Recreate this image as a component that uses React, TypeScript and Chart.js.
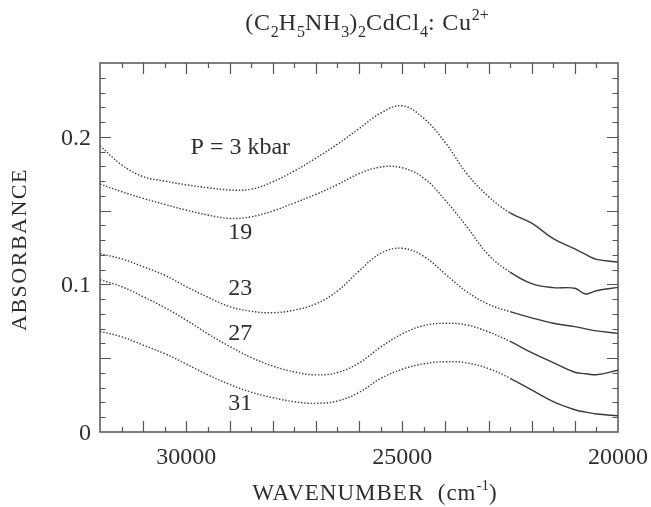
import React, { useEffect, useRef } from "react";
import { Chart, registerables } from "chart.js";

Chart.register(...registerables);

// ---- data (wavenumber in cm^-1, absorbance) ----
const wavenumbers = [
  32000, 31500, 31000, 30500, 30000, 29500, 29000, 28500, 28000, 27500, 27000, 26500, 26000,
  25500, 25000, 24500, 24000, 23500, 23000, 22500, 22000, 21500, 21000, 20750, 20500, 20000,
];

const absP3 = [
  0.194, 0.181, 0.173, 0.17, 0.1675, 0.1655, 0.164, 0.1645, 0.1695, 0.1768, 0.1855, 0.195, 0.2055,
  0.216, 0.221, 0.2125, 0.196, 0.175, 0.1595, 0.1485, 0.1415, 0.131, 0.124, 0.1203, 0.117, 0.1152,
];
const absP19 = [
  0.168, 0.1628, 0.1583, 0.1542, 0.1503, 0.147, 0.1447, 0.1458, 0.1497, 0.1552, 0.161, 0.1676, 0.175,
  0.1795, 0.179, 0.172, 0.157, 0.139, 0.12, 0.1083, 0.1005, 0.0978, 0.0974, 0.0935, 0.0957, 0.098,
];
const absP23 = [
  0.1208, 0.1173, 0.112, 0.1062, 0.0985, 0.0913, 0.085, 0.0818, 0.0808, 0.0826, 0.0868, 0.0955, 0.109,
  0.121, 0.1245, 0.119, 0.107, 0.095, 0.0865, 0.0815, 0.0773, 0.0737, 0.0714, 0.0699, 0.0685, 0.0668,
];
const absP27 = [
  0.1032, 0.0985, 0.0917, 0.0843, 0.0758, 0.0665, 0.058, 0.0505, 0.0447, 0.0407, 0.0387, 0.0403, 0.0468,
  0.0575, 0.0665, 0.0721, 0.0737, 0.0725, 0.0678, 0.0614, 0.0538, 0.047, 0.0405, 0.0395, 0.0388, 0.0418,
];
const absP31 = [
  0.0682, 0.0645, 0.0589, 0.0531, 0.046, 0.0387, 0.0323, 0.027, 0.0233, 0.0205, 0.0194, 0.021, 0.0268,
  0.0362, 0.0425, 0.0462, 0.0476, 0.0468, 0.043, 0.0364, 0.0285, 0.0206, 0.0151, 0.0135, 0.0122, 0.011,
];

const seriesNames = ["P = 3 kbar", "19", "23", "27", "31"];
const seriesValues = [absP3, absP19, absP23, absP27, absP31];

// curve labels: anchor (wavenumber, absorbance) for each label
const labelWavenumbers = [28750, 28750, 28750, 28750, 28750];
const labelAbsorbances = [0.1924, 0.1348, 0.0969, 0.0664, 0.019];

const xTickValues = [30000, 25000, 20000];
const xTickLabels = ["30000", "25000", "20000"];
const yTickValues = [0, 0.1, 0.2];
const yTickLabels = ["0", "0.1", "0.2"];

const X_MIN = 20000;
const X_MAX = 32000;
const Y_MIN = 0;
const Y_MAX = 0.25;
const DOTTED_ABOVE = 22500; // region plotted as dotted line

const SERIF = '"Liberation Serif", "Times New Roman", serif';
const INK = "#2e2e2e";
const FRAME = "#555";
const LINE = "#3a3a3a";

const decorPlugin = {
  id: "decor",
  afterDatasetsDraw(chart: any) {
    const { ctx, chartArea: a, scales } = chart;
    const xs = scales.x;
    const ys = scales.y;
    ctx.save();

    // frame
    ctx.strokeStyle = FRAME;
    ctx.lineWidth = 1.5;
    ctx.strokeRect(a.left, a.top, a.right - a.left, a.bottom - a.top);

    // ticks
    ctx.lineWidth = 1.2;
    ctx.beginPath();
    for (let v = X_MIN + 500; v < X_MAX; v += 500) {
      const px = Math.round(xs.getPixelForValue(v)) + 0.5;
      const len = v % 1000 === 0 ? 11 : 5;
      ctx.moveTo(px, a.bottom);
      ctx.lineTo(px, a.bottom - len);
      ctx.moveTo(px, a.top);
      ctx.lineTo(px, a.top + len);
    }
    for (let i = 1; i < 25; i++) {
      const py = Math.round(ys.getPixelForValue(i / 100)) + 0.5;
      const len = i % 5 === 0 ? 11 : 5.5;
      ctx.moveTo(a.left, py);
      ctx.lineTo(a.left + len, py);
      ctx.moveTo(a.right, py);
      ctx.lineTo(a.right - len, py);
    }
    ctx.stroke();

    ctx.fillStyle = INK;

    // x tick labels
    ctx.font = `24px ${SERIF}`;
    ctx.textAlign = "center";
    ctx.textBaseline = "alphabetic";
    xTickValues.forEach((v, i) => {
      ctx.fillText(xTickLabels[i], xs.getPixelForValue(v), a.bottom + 32);
    });

    // y tick labels
    ctx.textAlign = "right";
    ctx.textBaseline = "middle";
    yTickValues.forEach((v, i) => {
      ctx.fillText(yTickLabels[i], a.left - 9, ys.getPixelForValue(v) + 1.5);
    });

    // curve labels
    ctx.textAlign = "center";
    ctx.textBaseline = "middle";
    seriesNames.forEach((name, i) => {
      ctx.fillText(name, xs.getPixelForValue(labelWavenumbers[i]), ys.getPixelForValue(labelAbsorbances[i]));
    });

    // y axis title
    ctx.save();
    ctx.translate(20, (a.top + a.bottom) / 2 + 2);
    ctx.rotate(-Math.PI / 2);
    ctx.font = `22px ${SERIF}`;
    (ctx as any).letterSpacing = "1.5px";
    ctx.textAlign = "center";
    ctx.textBaseline = "middle";
    ctx.fillText("ABSORBANCE", 0, 0);
    ctx.restore();

    // rich text helper
    const drawRich = (pieces: { t: string; k: string }[], cx: number, base: number, size: number, spacing: number) => {
      const small = Math.round(size * 0.66);
      const measure = (p: { t: string; k: string }) => {
        ctx.font = `${p.k === "n" ? size : small}px ${SERIF}`;
        (ctx as any).letterSpacing = p.k === "n" ? `${spacing}px` : "0px";
        return ctx.measureText(p.t).width;
      };
      const total = pieces.reduce((s, p) => s + measure(p), 0);
      let x = cx - total / 2;
      ctx.textAlign = "left";
      ctx.textBaseline = "alphabetic";
      pieces.forEach((p) => {
        const w = measure(p);
        const dy = p.k === "sub" ? size * 0.3 : p.k === "sup" ? -size * 0.42 : 0;
        ctx.fillText(p.t, x, base + dy);
        x += w;
      });
      (ctx as any).letterSpacing = "0px";
    };

    // x axis title
    drawRich(
      [
        { t: "WAVENUMBER  (cm", k: "n" },
        { t: "-1", k: "sup" },
        { t: ")", k: "n" },
      ],
      (a.left + a.right) / 2 + 16,
      500,
      23,
      1
    );

    // chart title
    drawRich(
      [
        { t: "(C", k: "n" },
        { t: "2", k: "sub" },
        { t: "H", k: "n" },
        { t: "5", k: "sub" },
        { t: "NH", k: "n" },
        { t: "3", k: "sub" },
        { t: ")", k: "n" },
        { t: "2", k: "sub" },
        { t: "CdCl", k: "n" },
        { t: "4", k: "sub" },
        { t: ": Cu", k: "n" },
        { t: "2+", k: "sup" },
      ],
      367,
      30,
      24,
      0.8
    );

    ctx.restore();
  },
};

export default function App() {
  const ref = useRef<HTMLCanvasElement>(null);

  useEffect(() => {
    if (!ref.current) return;
    const datasets = seriesValues.map((vals, si) => ({
      label: seriesNames[si],
      data: wavenumbers.map((w, i) => ({ x: w, y: vals[i] })),
      borderColor: LINE,
      borderWidth: 1.4,
      pointRadius: 0,
      fill: false,
      tension: 0.4,
      borderDash: [],
      segment: {
        borderDash: (c: any) => (c.p0.parsed.x > DOTTED_ABOVE ? [1.4, 1.8] : undefined),
      },
    }));

    const chart = new Chart(ref.current, {
      type: "line",
      data: { datasets },
      options: {
        responsive: false,
        animation: false,
        events: [],
        layout: { padding: { left: 100, right: 33, top: 63, bottom: 75 } },
        plugins: { legend: { display: false }, tooltip: { enabled: false } },
        scales: {
          x: { type: "linear", min: X_MIN, max: X_MAX, reverse: true, display: false },
          y: { type: "linear", min: Y_MIN, max: Y_MAX, display: false },
        },
      },
      plugins: [decorPlugin],
    });
    return () => chart.destroy();
  }, []);

  return (
    <div style={{ position: "fixed", left: 0, top: 0, width: 651, height: 507, background: "#fff" }}>
      <canvas ref={ref} width={651} height={507} style={{ display: "block", width: 651, height: 507 }} />
    </div>
  );
}
